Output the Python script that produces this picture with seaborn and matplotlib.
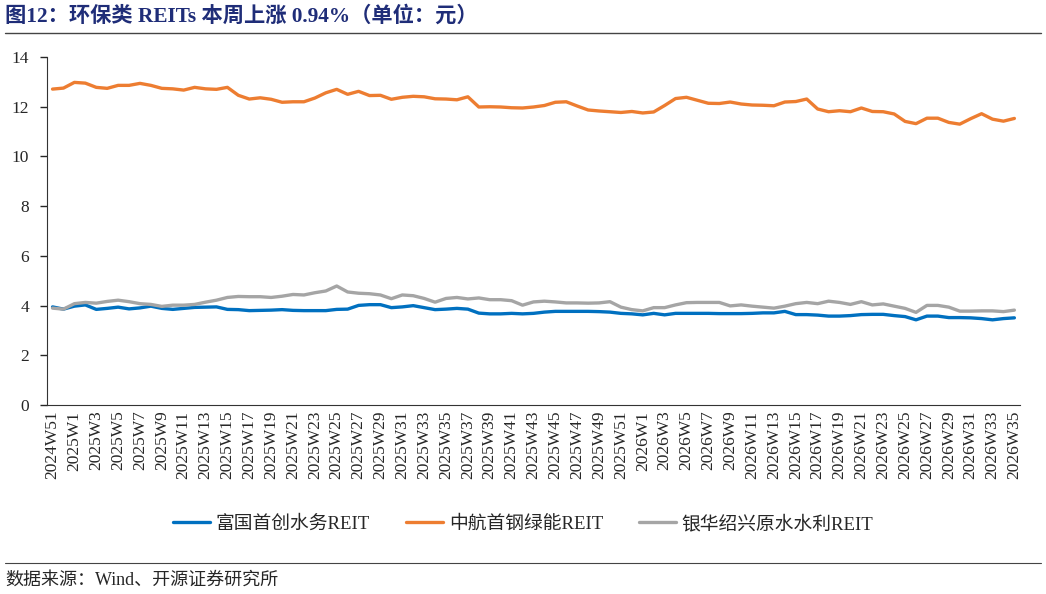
import numpy as np
import pandas as pd
import matplotlib
matplotlib.use("Agg")
import matplotlib.pyplot as plt
import seaborn as sns

# Week categories
weeks = (["2024W51", "2024W52"]
         + [f"2025W{i}" for i in range(1, 53)]
         + [f"2026W{i}" for i in range(1, 36)])

# Prices (yuan)
shougang = [12.71, 12.75, 12.98, 12.95, 12.78, 12.74, 12.86, 12.86, 12.94, 12.86,
            12.74, 12.72, 12.67, 12.78, 12.72, 12.70, 12.78, 12.46, 12.31, 12.36,
            12.30, 12.18, 12.20, 12.20, 12.35, 12.56, 12.70, 12.50, 12.62, 12.45,
            12.46, 12.30, 12.38, 12.42, 12.40, 12.32, 12.31, 12.28, 12.40, 11.99,
            12.00, 11.99, 11.96, 11.95, 11.99, 12.05, 12.18, 12.20, 12.03, 11.87,
            11.83, 11.80, 11.77, 11.81, 11.75, 11.79, 12.05, 12.33, 12.38, 12.26,
            12.14, 12.13, 12.19, 12.11, 12.07, 12.06, 12.04, 12.19, 12.21, 12.31,
            11.91, 11.80, 11.84, 11.80, 11.95, 11.81, 11.80, 11.71, 11.41, 11.32,
            11.54, 11.54, 11.37, 11.30, 11.52, 11.72, 11.50, 11.42, 11.53]

shouchuang = [3.95, 3.86, 3.98, 4.03, 3.85, 3.89, 3.94, 3.87, 3.91, 3.98,
              3.89, 3.85, 3.89, 3.93, 3.94, 3.95, 3.85, 3.84, 3.80, 3.81,
              3.82, 3.84, 3.81, 3.80, 3.80, 3.80, 3.85, 3.86, 4.01, 4.04,
              4.04, 3.92, 3.95, 4.00, 3.92, 3.84, 3.86, 3.89, 3.86, 3.70,
              3.67, 3.67, 3.69, 3.67, 3.69, 3.74, 3.77, 3.77, 3.77, 3.77,
              3.76, 3.74, 3.69, 3.67, 3.63, 3.69, 3.63, 3.69, 3.69, 3.69,
              3.69, 3.68, 3.68, 3.68, 3.69, 3.71, 3.71, 3.77, 3.64, 3.64,
              3.62, 3.58, 3.58, 3.60, 3.64, 3.65, 3.65, 3.60, 3.56, 3.43,
              3.58, 3.58, 3.52, 3.52, 3.51, 3.48, 3.43, 3.48, 3.51]

shaoxing = [3.90, 3.86, 4.08, 4.13, 4.10, 4.17, 4.22, 4.16, 4.08, 4.05,
            3.97, 4.02, 4.02, 4.05, 4.14, 4.22, 4.33, 4.37, 4.36, 4.36,
            4.33, 4.38, 4.45, 4.43, 4.52, 4.59, 4.79, 4.55, 4.50, 4.48,
            4.43, 4.28, 4.43, 4.40, 4.29, 4.14, 4.29, 4.33, 4.27, 4.31,
            4.24, 4.24, 4.20, 4.02, 4.15, 4.18, 4.15, 4.11, 4.11, 4.10,
            4.11, 4.16, 3.94, 3.84, 3.79, 3.92, 3.92, 4.03, 4.12, 4.13,
            4.13, 4.13, 3.99, 4.03, 3.98, 3.94, 3.90, 3.98, 4.08, 4.13,
            4.08, 4.18, 4.13, 4.05, 4.16, 4.03, 4.07, 3.98, 3.89, 3.73,
            4.01, 4.01, 3.94, 3.78, 3.78, 3.79, 3.79, 3.76, 3.82]

names = ["富国首创水务REIT", "中航首钢绿能REIT", "银华绍兴原水水利REIT"]
colors = ["#0070C0", "#ED7D31", "#A5A5A5"]

idx = np.arange(len(weeks))
df = pd.concat([
    pd.DataFrame({"idx": idx, "value": shouchuang, "series": names[0]}),
    pd.DataFrame({"idx": idx, "value": shougang, "series": names[1]}),
    pd.DataFrame({"idx": idx, "value": shaoxing, "series": names[2]}),
])

sns.set_style("ticks")
mixed = ["Liberation Serif", "Noto Sans CJK SC"]
plt.rcParams["font.family"] = mixed

fig = plt.figure(figsize=(10.46, 5.94), dpi=100)
ax = fig.add_axes([0.045, 0.318, 0.93, 0.586])

sns.lineplot(data=df, x="idx", y="value", hue="series", hue_order=names,
             palette=colors, linewidth=2.4, ax=ax, legend=False)

ax.set_xlim(-0.5, len(weeks) - 0.5)
ax.set_ylim(0, 14)
ax.set_yticks([0, 2, 4, 6, 8, 10, 12, 14])
ax.set_xticks(idx[::2])
ax.set_xticklabels(weeks[::2], rotation=90, fontsize=12.5)
ax.tick_params(axis="y", labelsize=12.5, length=5, width=1, direction="out", pad=8)
ax.tick_params(axis="x", length=0, pad=4)
ax.set_xlabel("")
ax.set_ylabel("")
for s in ["top", "right"]:
    ax.spines[s].set_visible(False)
ax.spines["left"].set_color("#333333")
ax.spines["bottom"].set_color("#333333")

# legend
handles = [plt.Line2D([], [], color=c, lw=2.4) for c in colors]
fig.legend(handles, names, loc="center", bbox_to_anchor=(0.5, 0.118), ncol=3,
           frameon=False, handlelength=2.0, handletextpad=0.3, columnspacing=1.9,
           prop={"family": mixed, "size": 13.5})

# title and source
fig.text(0.005, 0.972, "图12：环保类 REITs 本周上涨 0.94%（单位：元）",
         fontsize=15.3, fontweight="bold", color="#1F2D78", va="center",
         family=mixed)
fig.add_artist(plt.Line2D([0.005, 0.995], [0.945, 0.945], color="#444444", lw=1))
fig.add_artist(plt.Line2D([0.005, 0.995], [0.052, 0.052], color="#444444", lw=0.8))
fig.text(0.005, 0.024, "数据来源：Wind、开源证券研究所", fontsize=13, va="center",
         family=mixed)

fig.savefig("out.png", dpi=100)
